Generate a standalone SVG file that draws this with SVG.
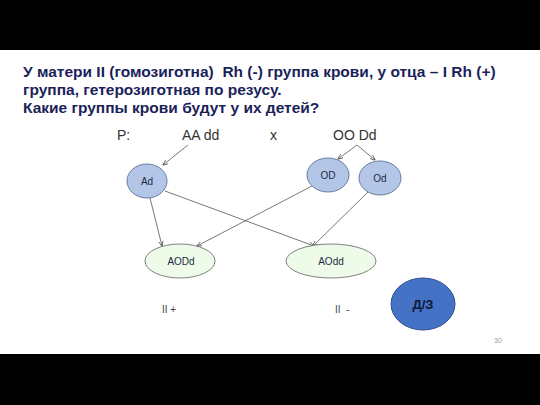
<svg xmlns="http://www.w3.org/2000/svg" width="540" height="405" viewBox="0 0 540 405">
<style>
text{white-space:pre}
.t{font-family:"Liberation Sans",Arial,sans-serif;font-weight:bold;font-size:15.5px;fill:#1b1f5a}
.p{font-family:"Liberation Sans",Arial,sans-serif;font-size:14px;fill:#333}
.g{fill:#b4c6e7;stroke:#6a7c9e;stroke-width:1}
.c{fill:#edfbe8;stroke:#808080;stroke-width:1}
.n{font-family:"Liberation Sans",Arial,sans-serif;font-size:10px;fill:#1f2a44;text-anchor:middle}
.s{font-family:"Liberation Sans",Arial,sans-serif;font-size:10px;fill:#444}
.l{stroke:#555;stroke-width:0.8;fill:none;marker-end:url(#a)}
</style>
<defs>
<marker id="a" viewBox="0 0 10 10" refX="9" refY="5" markerWidth="7" markerHeight="7" orient="auto"><path d="M0,1 L10,5 L0,9" fill="none" stroke="#444" stroke-width="1.3"/></marker>
</defs>
<rect width="540" height="405" fill="#fff"/>
<rect x="0" y="0" width="540" height="50" fill="#000"/>
<rect x="0" y="354" width="540" height="51" fill="#000"/>
<g id="title">
<text class="t" x="23" y="77">У матери II (гомозиготна)  Rh (-) группа крови, у отца – I Rh (+)</text>
<text class="t" x="23" y="95">группа, гетерозиготная по резусу.</text>
<text class="t" x="23" y="113">Какие группы крови будут у их детей?</text>
</g>
<g id="parents">
<text class="p" x="117" y="140">P:</text>
<text class="p" x="182" y="140">AA dd</text>
<text class="p" x="270" y="140">x</text>
<text class="p" x="333" y="140">OO Dd</text>
</g>
<g id="connectors">
<path class="l" d="M188,145 L163,165"/>
<path class="l" d="M357,145 L338,159"/>
<path class="l" d="M357,145 L375,160"/>
<path class="l" d="M150,198 L162,246"/>
<path class="l" d="M165,191 L314,246"/>
<path class="l" d="M312,186 L197,246"/>
<path class="l" d="M369,191 L313,246"/>
</g>
<g id="Ad"><ellipse class="g" cx="147" cy="181" rx="20" ry="17"/><text class="n" x="147" y="185">Ad</text></g>
<g id="OD"><ellipse class="g" cx="328" cy="175" rx="21" ry="17"/><text class="n" x="328" y="179">OD</text></g>
<g id="Od"><ellipse class="g" cx="380" cy="178" rx="21" ry="17"/><text class="n" x="380" y="182">Od</text></g>
<g id="AODd"><ellipse class="c" cx="180" cy="261" rx="35" ry="17"/><text class="n" x="181" y="265">AODd</text></g>
<g id="AOdd"><ellipse class="c" cx="331" cy="261" rx="45" ry="17"/><text class="n" x="331" y="265">AOdd</text></g>
<g id="labels">
<text class="s" x="162" y="313">II +</text>
<text class="s" x="335" y="313">II  -</text>
<text x="494" y="343" font-family="Liberation Sans,Arial,sans-serif" font-size="7px" fill="#999">30</text>
</g>
<g id="DZ"><ellipse cx="423" cy="304" rx="32" ry="26" fill="#4472c4" stroke="#2f528f" stroke-width="1"/><text x="423" y="309" font-family="Liberation Sans,Arial,sans-serif" font-weight="bold" font-size="13px" fill="#0f1a3a" text-anchor="middle">Д/З</text></g>
</svg>
